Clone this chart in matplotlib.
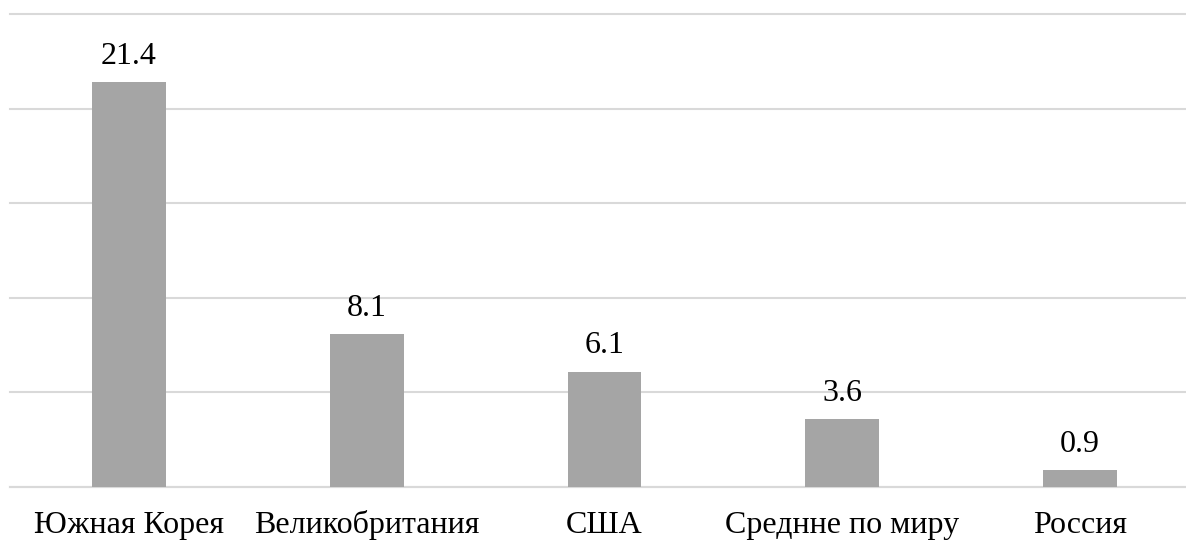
import matplotlib
matplotlib.use('Agg')
import matplotlib.pyplot as plt

# data
countries = ['Южная Корея', 'Великобритания', 'США', 'Среднне по миру', 'Россия']
values = [21.4, 8.1, 6.1, 3.6, 0.9]

BAR_C = '#A5A5A5'
GRID_C = '#D9D9D9'

plt.rcParams['font.family'] = ['Liberation Serif', 'DejaVu Serif']

fig = plt.figure(figsize=(11.86, 5.42), dpi=100)
W, H = 1186, 542
left, right = 10, 1199
bottom, top = 487, 14
ax = fig.add_axes([left / W, 1 - bottom / H, (right - left) / W, (bottom - top) / H])

x = range(len(countries))
bars = ax.bar(x, values, width=0.31, color=BAR_C, zorder=3)

for b, v in zip(bars, values):
    ax.annotate(f'{v}', (b.get_x() + b.get_width() / 2, v),
                xytext=(0, 8), textcoords='offset points',
                ha='center', va='bottom', fontsize=23, color='#000000')

ax.set_xlim(-0.5, len(countries) - 0.5)
ax.set_ylim(0, 25)
ax.set_yticks([0, 5, 10, 15, 20, 25])
ax.yaxis.grid(True, color=GRID_C, lw=1.5, zorder=0)
for gl in ax.get_ygridlines():
    gl.set_clip_on(False)
ax.set_yticklabels([])
ax.tick_params(axis='y', length=0)
ax.set_xticks(list(x))
ax.set_xticklabels(countries, fontsize=23)
ax.tick_params(axis='x', length=0, pad=33)
# keep all category labels on one baseline
for lbl in ax.get_xticklabels():
    lbl.set_verticalalignment('baseline')
for s in ['top', 'right', 'left']:
    ax.spines[s].set_visible(False)
ax.spines['bottom'].set_color(GRID_C)
ax.spines['bottom'].set_linewidth(1.5)

fig.savefig('out.png', dpi=100, facecolor='white')
